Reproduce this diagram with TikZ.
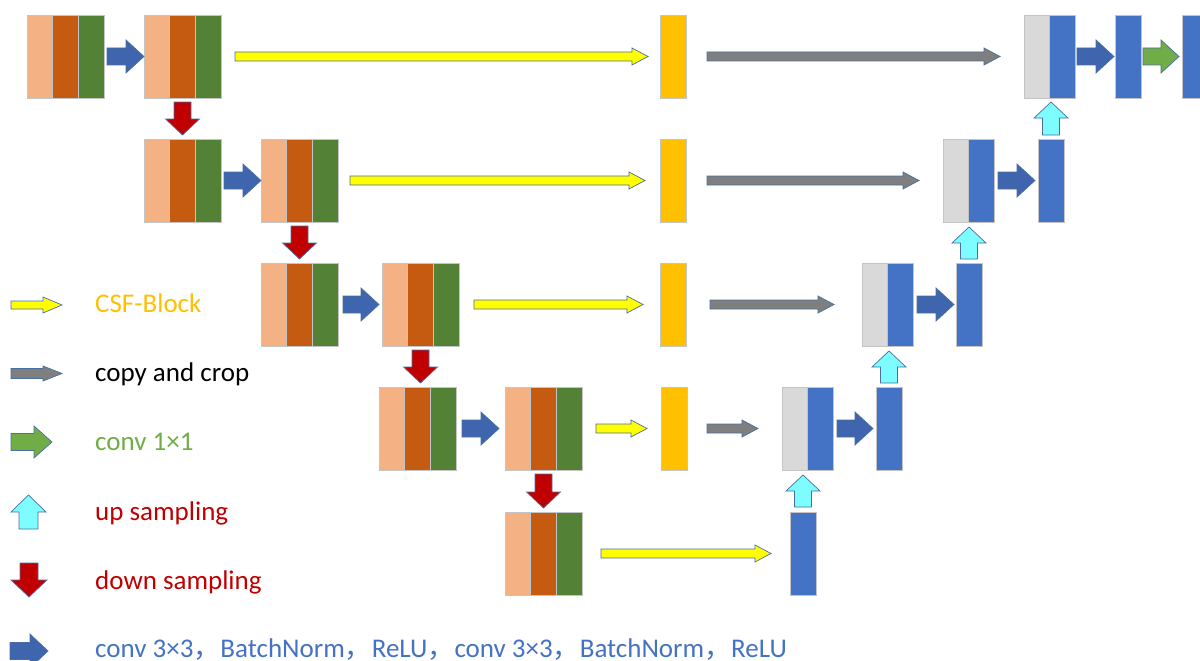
\documentclass[tikz,border=0pt]{standalone}
\usepackage{fontspec}
\setmainfont{Carlito}
\newfontfamily\cjk{Noto Sans CJK SC}
\usetikzlibrary{calc}

\definecolor{lor}{HTML}{F4B183}
\definecolor{dor}{HTML}{C55A11}
\definecolor{dgr}{HTML}{538135}
\definecolor{orb}{HTML}{FFC000}
\definecolor{lgr}{HTML}{D9D9D9}
\definecolor{blu}{HTML}{4472C4}
\definecolor{barr}{HTML}{3E65AD}
\definecolor{garr}{HTML}{7F7F7F}
\definecolor{yel}{HTML}{FFFF00}
\definecolor{cyn}{HTML}{7DFDFF}
\definecolor{rdd}{HTML}{C00000}
\definecolor{grn}{HTML}{70AD47}
\definecolor{edge}{HTML}{C4C4C4}
\definecolor{aedge}{HTML}{4A6FA0}

\tikzset{
  % vertical strip of a feature block
  strip/.style={draw=edge, line width=0.8pt, inner sep=0pt, outer sep=0pt,
    minimum height=83pt, minimum width=25.67pt, anchor=north west},
  decstrip/.style={strip, minimum width=25.5pt},
  bar/.style={strip, minimum width=26pt},
  % block arrows: shaft half width / head half width / head length
  rarr/.style n args={3}{to path={let \p1=(\tikztostart), \p2=(\tikztotarget) in
    (\x1,{\y1+#1}) -- ({\x2-#3},{\y1+#1}) -- ({\x2-#3},{\y1+#2}) -- (\x2,\y1)
    -- ({\x2-#3},{\y1-#2}) -- ({\x2-#3},{\y1-#1}) -- (\x1,{\y1-#1}) -- cycle}},
  uarr/.style n args={3}{to path={let \p1=(\tikztostart), \p2=(\tikztotarget) in
    ({\x1-#1},\y1) -- ({\x1-#1},{\y2-#3}) -- ({\x1-#2},{\y2-#3}) -- (\x1,\y2)
    -- ({\x1+#2},{\y2-#3}) -- ({\x1+#1},{\y2-#3}) -- ({\x1+#1},\y1) -- cycle}},
  darr/.style n args={3}{to path={let \p1=(\tikztostart), \p2=(\tikztotarget) in
    ({\x1-#1},\y1) -- ({\x1-#1},{\y2+#3}) -- ({\x1-#2},{\y2+#3}) -- (\x1,\y2)
    -- ({\x1+#2},{\y2+#3}) -- ({\x1+#1},{\y2+#3}) -- ({\x1+#1},\y1) -- cycle}},
  arrbase/.style={draw=aedge, line width=0.7pt, line join=miter},
  convarrow/.style={arrbase, fill=barr, rarr={8.5pt}{16.5pt}{18pt}},
  onearrow/.style={arrbase, fill=grn, rarr={8.5pt}{16.5pt}{18pt}},
  csfarrow/.style={arrbase, fill=yel, rarr={4.5pt}{8.5pt}{16pt}},
  copyarrow/.style={arrbase, fill=garr, rarr={4.5pt}{8.5pt}{16pt}},
  uparrow/.style={arrbase, fill=cyn, uarr={8.5pt}{17pt}{16pt}},
  downarrow/.style={arrbase, fill=rdd, darr={8.5pt}{17pt}{16pt}},
  legtext/.style={anchor=base west, inner sep=0pt, font=\fontsize{27}{31}\selectfont},
}

% encoder block: three strips, named #1a, #1b, #1c
\newcommand\encblock[3]{%
  \node[strip, fill=lor] (#1a) at (#2,#3) {};
  \node[strip, fill=dor] (#1b) at (#1a.north east) {};
  \node[strip, fill=dgr] (#1c) at (#1b.north east) {};}
% decoder block: copied (gray) and upsampled (blue) strips, named #1a, #1b
\newcommand\decblock[3]{%
  \node[decstrip, fill=lgr] (#1a) at (#2,#3) {};
  \node[decstrip, fill=blu] (#1b) at (#1a.north east) {};}

\begin{document}
\begin{tikzpicture}[x=1pt, y=-1pt]
\useasboundingbox (0,0) rectangle (1200,661);
\fill[white] (0,0) rectangle (1200,661);

% ---- encoder ----
\encblock{A1}{27}{15}
\encblock{A2}{144}{15}
\encblock{B1}{144}{139}
\encblock{B2}{261}{139}
\encblock{C1}{261}{263}
\encblock{C2}{382}{263}
\encblock{D1}{379}{387}
\encblock{D2}{505}{387}
\encblock{E1}{505}{512}

% ---- CSF blocks ----
\node[bar, fill=orb] (O1) at (660,15) {};
\node[bar, fill=orb] (O2) at (660,139) {};
\node[bar, fill=orb] (O3) at (660,263) {};
\node[bar, fill=orb] (O4) at (661,387) {};

% ---- decoder ----
\decblock{R1}{1024}{15}
\decblock{R2}{943}{139}
\decblock{R3}{862}{263}
\decblock{R4}{782}{387}
\node[bar, fill=blu] (U1) at (1115,15) {};
\node[bar, fill=blu] (U0) at (1182,15) {};
\node[bar, fill=blu] (U2) at (1038,139) {};
\node[bar, fill=blu] (U3) at (956,263) {};
\node[bar, fill=blu] (U4) at (876,387) {};
\node[bar, fill=blu] (U5) at (790,512) {};

% ---- double convolutions ----
\draw[convarrow] ([xshift=3pt]A1c.east) to (A2a.west);
\draw[convarrow] ([xshift=3pt]B1c.east) to (B2a.west);
\draw[convarrow] ([xshift=5pt]C1c.east) to ([xshift=-3pt]C2a.west);
\draw[convarrow] ([xshift=6pt]D1c.east) to ([xshift=-6pt]D2a.west);
\draw[convarrow] ([xshift=2pt]R1b.east) to ([xshift=-1pt]U1.west);
\draw[convarrow] ([xshift=4pt]R2b.east) to ([xshift=-3pt]U2.west);
\draw[convarrow] ([xshift=4pt]R3b.east) to ([xshift=-2pt]U3.west);
\draw[convarrow] ([xshift=4pt]R4b.east) to ([xshift=-3pt]U4.west);
\draw[onearrow] ([xshift=2pt]U1.east) to ([xshift=-3pt]U0.west);

% ---- down sampling ----
\draw[downarrow] ([yshift=-4pt]A2b.south) to ([yshift=4pt]B1b.north);
\draw[downarrow] ([yshift=-4pt]B2b.south) to ([yshift=4pt]C1b.north);
\draw[downarrow] ([yshift=-4pt]C2b.south) to ([yshift=4pt]D1b.north);
\draw[downarrow] ([yshift=-4pt]D2b.south) to ([yshift=4pt]E1b.north);

% ---- up sampling ----
\draw[uparrow] ([yshift=5pt]U5.north) to ([yshift=-5pt]R4b.south);
\draw[uparrow] ([yshift=4pt]U4.north) to ([yshift=-5pt]R3b.south);
\draw[uparrow] ([yshift=4pt]U3.north) to ([yshift=-5pt]R2b.south);
\draw[uparrow] ([yshift=4pt]U2.north) to ([yshift=-4pt]R1b.south);

% ---- CSF-Block paths ----
\draw[csfarrow] ([xshift=14pt]A2c.east) to ([xshift=-12pt]O1.west);
\draw[csfarrow] ([xshift=12pt]B2c.east) to ([xshift=-15pt]O2.west);
\draw[csfarrow] ([xshift=15pt]C2c.east) to ([xshift=-17pt]O3.west);
\draw[csfarrow] ([xshift=14pt]D2c.east) to ([xshift=-14pt]O4.west);
\draw[csfarrow] ([xshift=19pt]E1c.east) to ([xshift=-19pt]U5.west);

% ---- copy and crop ----
\draw[copyarrow] ([xshift=21pt]O1.east) to ([xshift=-24pt]R1a.west);
\draw[copyarrow] ([xshift=21pt]O2.east) to ([xshift=-24pt]R2a.west);
\draw[copyarrow] ([xshift=24pt]O3.east) to ([xshift=-28pt]R3a.west);
\draw[copyarrow] ([xshift=20pt]O4.east) to ([xshift=-24pt]R4a.west);

% ---- legend ----
\coordinate (k1s) at (11,305);   \coordinate (k1e) at (62,305);
\coordinate (k2s) at (11,373.5); \coordinate (k2e) at (62,373.5);
\coordinate (k3s) at (11,442);   \coordinate (k3e) at (52,442);
\coordinate (k4s) at (28.5,529); \coordinate (k4e) at (28.5,495);
\coordinate (k5s) at (29,563);   \coordinate (k5e) at (29,597);
\coordinate (k6s) at (10,651);   \coordinate (k6e) at (48,651);

\draw[csfarrow, rarr={4pt}{8pt}{19pt}] (k1s) to (k1e);
\draw[copyarrow, rarr={5pt}{7.5pt}{19pt}] (k2s) to (k2e);
\draw[onearrow, rarr={8.5pt}{16pt}{18pt}] (k3s) to (k3e);
\draw[uparrow, uarr={9.5pt}{17.5pt}{17pt}] (k4s) to (k4e);
\draw[downarrow, darr={9pt}{18pt}{17pt}] (k5s) to (k5e);
\draw[convarrow, rarr={8.5pt}{17pt}{18pt}] (k6s) to (k6e);

\node[legtext, text=orb] (t1) at (95,312) {CSF-Block};
\node[legtext, text=black] (t2) at (95,381) {copy and crop};
\node[legtext, text=grn] (t3) at (95,450) {conv 1×1};
\node[legtext, text=rdd] (t4) at (95,520) {up sampling};
\node[legtext, text=rdd] (t5) at (95,589) {down sampling};
\node[legtext, text=blu] (t6) at (95,657)
  {conv 3×3{\cjk，}BatchNorm{\cjk，}ReLU{\cjk，}conv 3×3{\cjk，}BatchNorm{\cjk，}ReLU};
\end{tikzpicture}
\end{document}
